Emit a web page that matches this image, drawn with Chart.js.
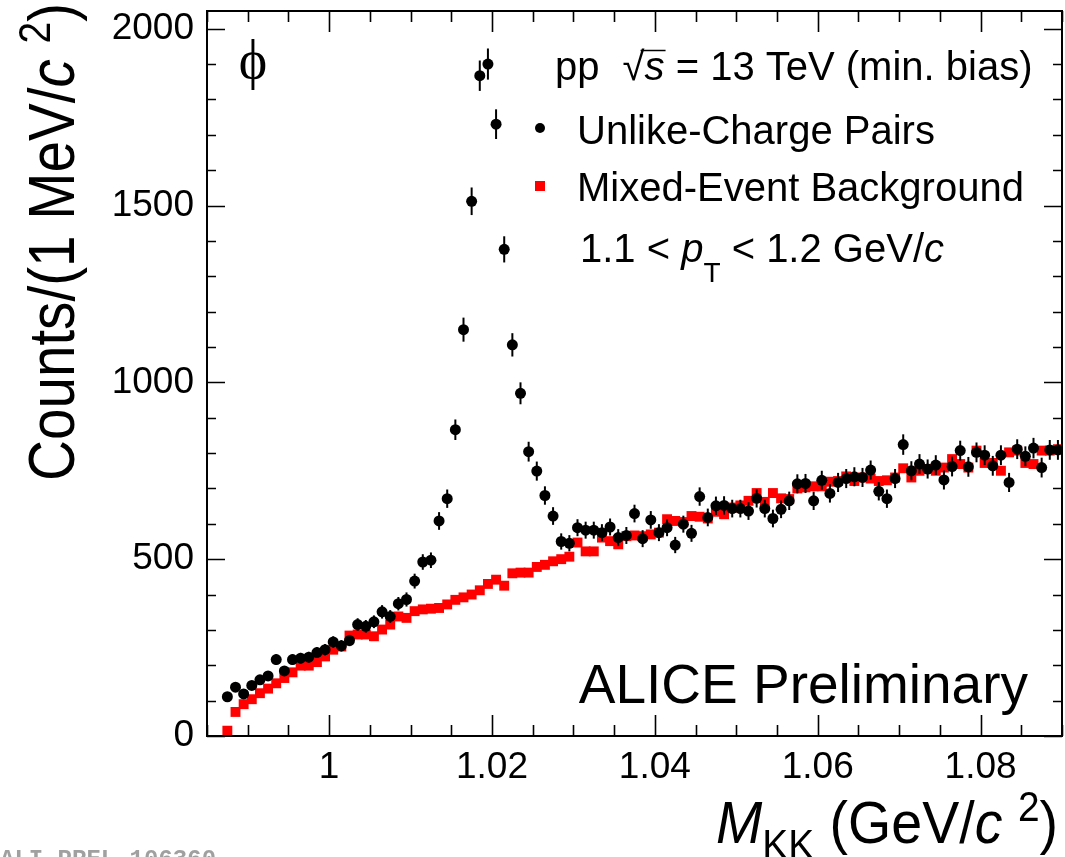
<!DOCTYPE html>
<html>
<head>
<meta charset="utf-8">
<script src="https://cdn.jsdelivr.net/npm/chart.js@4.4.1/dist/chart.umd.min.js"></script>
<style>
  body { margin: 0; background: #fff; }
  canvas { display: block; }
</style>
</head>
<body>
<canvas id="phiChart" width="1065" height="857"></canvas>
<script>
'use strict';

// 1 MeV/c^2 bins, first bin centre
const binStart = 0.9875;
const binWidth = 0.001;

const unlikeCounts = [
  111, 138, 119, 143, 159, 170, 216, 184, 216, 220,
  223, 236, 244, 266, 255, 270, 315, 310, 323, 351,
  338, 374, 386, 438, 492, 497, 608, 671, 866, 1149,
  1512, 1867, 1900, 1730, 1376, 1106, 969, 804, 749, 680,
  622, 550, 545, 589, 582, 582, 575, 591, 561, 567,
  629, 558, 611, 575, 589, 540, 599, 573, 677, 618,
  651, 652, 643, 643, 636, 672, 643, 615, 641, 665,
  713, 714, 665, 723, 686, 717, 728, 733, 731, 752,
  692, 671, 728, 824, 750, 769, 755, 766, 724, 762,
  807, 761, 802, 794, 764, 794, 717, 811, 791, 814,
  759, 809, 809
];

// error bar half-lengths (counts)
const unlikeErrors = [
  11, 12, 11, 12, 13, 13, 15, 14, 15, 15,
  15, 15, 16, 16, 16, 16, 18, 18, 18, 19,
  18, 19, 20, 21, 22, 22, 25, 26, 29, 34,
  39, 43, 44, 42, 37, 33, 31, 28, 27, 26,
  25, 23, 23, 24, 24, 24, 24, 24, 24, 24,
  25, 24, 25, 24, 24, 23, 24, 24, 26, 25,
  26, 26, 25, 25, 25, 26, 25, 25, 25, 26,
  27, 27, 26, 27, 26, 27, 27, 27, 27, 27,
  26, 26, 27, 29, 27, 28, 27, 28, 27, 28,
  28, 28, 28, 28, 28, 28, 27, 28, 28, 29,
  28, 28, 28
];

const mixedCounts = [
  15, 68, 90, 104, 121, 134, 149, 164, 180, 199,
  199, 209, 225, 244, 253, 284, 287, 287, 282, 301,
  315, 338, 334, 353, 358, 360, 362, 372, 385, 392,
  400, 412, 430, 442, 425, 460, 462, 462, 478, 484,
  494, 500, 507, 547, 522, 522, 561, 551, 542, 565,
  567, 565, 570, 575, 613, 608, 605, 622, 620, 615,
  634, 627, 646, 652, 665, 687, 662, 687, 672, 670,
  700, 703, 706, 706, 719, 721, 734, 721, 731, 728,
  721, 723, 731, 757, 731, 750, 755, 750, 759, 783,
  769, 759, 807, 772, 772, 750, 802, 807, 772, 769,
  807, 807, 811
];

const xTickVals = [1, 1.02, 1.04, 1.06, 1.08];
const xTickLabels = ['1', '1.02', '1.04', '1.06', '1.08'];
const yTickVals = [0, 500, 1000, 1500, 2000];
const yTickLabels = ['0', '500', '1000', '1500', '2000'];

const xMin = 0.985, xMax = 1.09;
const yMin = 0, yMax = 2050;

let massBins = unlikeCounts.map((c, i) => binStart + i * binWidth);
let unlikePts = unlikeCounts.map((c, i) => ({ x: massBins[i], y: c }));
let mixedPts = mixedCounts.map((c, i) => ({ x: massBins[i], y: c }));

const SANS = '"Liberation Sans", Arial, Helvetica, sans-serif';

function drawParts(ctx, x, y, parts) {
  let cx = x;
  for (const p of parts) {
    ctx.font = p.font;
    ctx.fillText(p.text, cx, y + (p.dy || 0));
    cx += ctx.measureText(p.text).width + (p.gap || 0);
  }
  return cx;
}

function partsWidth(ctx, parts) {
  let w = 0;
  for (const p of parts) {
    ctx.font = p.font;
    w += ctx.measureText(p.text).width + (p.gap || 0);
  }
  return w;
}

const rootStyle = {
  id: 'rootStyle',
  beforeDatasetDraw(chart, args) {
    if (args.index !== 0) return;
    // vertical error bars on the unlike-charge pairs
    const ctx = chart.ctx;
    const xs = chart.scales.x, ys = chart.scales.y;
    ctx.save();
    ctx.strokeStyle = '#000';
    ctx.lineWidth = 2;
    unlikeCounts.forEach((c, i) => {
      let px = xs.getPixelForValue(massBins[i]);
      ctx.beginPath();
      ctx.moveTo(px, ys.getPixelForValue(c - unlikeErrors[i]));
      ctx.lineTo(px, ys.getPixelForValue(c + unlikeErrors[i]));
      ctx.stroke();
    });
    ctx.restore();
  },
  afterDraw(chart) {
    const ctx = chart.ctx;
    const a = chart.chartArea;
    const xs = chart.scales.x, ys = chart.scales.y;
    ctx.save();
    ctx.strokeStyle = '#000';

    // frame
    ctx.lineWidth = 2;
    ctx.strokeRect(a.left, a.top, a.right - a.left, a.bottom - a.top);

    // x ticks, bottom and top
    ctx.lineWidth = 1.6;
    for (let k = Math.ceil(xMin / 0.005 - 1e-6); k * 0.005 <= xMax + 1e-9; k++) {
      let v = k * 0.005;
      let major = xTickVals.some(t => Math.abs(t - v) < 1e-6);
      let len = major ? 21 : 11;
      let px = Math.round(xs.getPixelForValue(v)) + 0.5;
      ctx.beginPath();
      ctx.moveTo(px, a.bottom); ctx.lineTo(px, a.bottom - len);
      ctx.moveTo(px, a.top); ctx.lineTo(px, a.top + len);
      ctx.stroke();
    }
    // y ticks, left and right
    for (let v = 0; v <= yMax; v += 100) {
      let major = v % 500 === 0;
      let len = major ? 18 : 9;
      let py = Math.round(ys.getPixelForValue(v)) + 0.5;
      ctx.beginPath();
      ctx.moveTo(a.left, py); ctx.lineTo(a.left + len, py);
      ctx.moveTo(a.right, py); ctx.lineTo(a.right - len, py);
      ctx.stroke();
    }

    ctx.fillStyle = '#000';
    ctx.textBaseline = 'alphabetic';
    ctx.textAlign = 'left';

    // phi symbol
    ctx.font = '54px "Liberation Serif", "DejaVu Serif", serif';
    ctx.textAlign = 'center';
    ctx.textBaseline = 'middle';
    ctx.fillText('\u03D5', 253, 64);
    ctx.textAlign = 'left';
    ctx.textBaseline = 'alphabetic';

    const f40 = '40px ' + SANS;
    const i40 = 'italic 40px ' + SANS;

    // pp sqrt(s) = 13 TeV
    let cx = drawParts(ctx, 555, 80, [{ text: 'pp ', font: f40, gap: 12 }]);
    ctx.font = f40;
    ctx.fillText('\u221A', cx, 80);
    cx += ctx.measureText('\u221A').width;
    ctx.font = i40;
    ctx.fillText('s', cx, 80);
    let sw = ctx.measureText('s').width;
    ctx.lineWidth = 1.5;
    ctx.beginPath();
    ctx.moveTo(cx - 4, 50.5); ctx.lineTo(cx + sw + 1, 50.5);
    ctx.stroke();
    cx += sw;
    drawParts(ctx, cx, 80, [{ text: ' = 13 TeV (min. bias)', font: f40 }]);

    // legend
    ctx.beginPath();
    ctx.arc(540, 128, 5, 0, Math.PI * 2);
    ctx.fill();
    ctx.fillText('Unlike-Charge Pairs', 577, 144);
    ctx.fillStyle = '#ff0000';
    ctx.fillRect(535, 181, 10, 10);
    ctx.fillStyle = '#000';
    ctx.fillText('Mixed-Event Background', 577, 201);
    drawParts(ctx, 580, 262, [
      { text: '1.1 < ', font: f40 },
      { text: 'p', font: i40 },
      { text: 'T', font: '28px ' + SANS, dy: 20 },
      { text: ' < 1.2 GeV/', font: f40 },
      { text: 'c', font: i40 }
    ]);

    // ALICE Preliminary
    ctx.font = '55px ' + SANS;
    ctx.textAlign = 'right';
    ctx.fillText('ALICE Preliminary', 1028, 703);
    ctx.textAlign = 'left';

    // x axis title
    const xTitle = [
      { text: 'M', font: 'italic 60px ' + SANS },
      { text: 'KK', font: '42px ' + SANS, dy: 16 },
      { text: ' (GeV/', font: '60px ' + SANS },
      { text: 'c', font: 'italic 60px ' + SANS },
      { text: ' ', font: '60px ' + SANS },
      { text: '2', font: '42px ' + SANS, dy: -22 },
      { text: ')', font: '60px ' + SANS }
    ];
    let xw = partsWidth(ctx, xTitle);
    ctx.save();
    ctx.translate(716, 843);
    ctx.scale(342 / xw, 1);
    drawParts(ctx, 0, 0, xTitle);
    ctx.restore();

    // y axis title
    const yTitle = [
      { text: 'Counts/(1 MeV/', font: '64px ' + SANS },
      { text: 'c', font: 'italic 64px ' + SANS },
      { text: ' ', font: '64px ' + SANS },
      { text: '2', font: '44px ' + SANS, dy: -24 },
      { text: ')', font: '64px ' + SANS }
    ];
    let yw = partsWidth(ctx, yTitle);
    ctx.save();
    ctx.translate(74, 481);
    ctx.rotate(-Math.PI / 2);
    ctx.scale(478 / yw, 1);
    drawParts(ctx, 0, 0, yTitle);
    ctx.restore();

    // figure id
    ctx.fillStyle = '#a0a0a0';
    ctx.font = 'bold 24px "Liberation Mono", "DejaVu Sans Mono", monospace';
    ctx.fillText('ALI-PREL-106360', 0, 866);

    ctx.restore();
  }
};

let canvasElem = document.getElementById('phiChart');

let chartObj = {
  type: 'scatter',
  data: {
    datasets: [{
      label: 'Unlike-Charge Pairs',
      data: unlikePts,
      pointStyle: 'circle',
      pointRadius: 5.5,
      backgroundColor: '#000',
      borderColor: '#000',
      borderWidth: 0
    },
    {
      label: 'Mixed-Event Background',
      data: mixedPts,
      pointStyle: 'rect',
      pointRadius: 7,
      backgroundColor: '#ff0000',
      borderColor: '#ff0000',
      borderWidth: 0
    }]
  },
  options: {
    responsive: false,
    animation: false,
    layout: { autoPadding: false, padding: { top: 11, right: 3, left: 0, bottom: 0 } },
    plugins: {
      legend: { display: false },
      tooltip: { enabled: false }
    },
    scales: {
      x: {
        type: 'linear',
        min: xMin,
        max: xMax,
        grid: { display: false, drawTicks: false },
        border: { display: false },
        afterFit(s) {
          s.height = 121;
          s.paddingLeft = 0;
          s.paddingRight = 0;
        },
        afterBuildTicks(s) { s.ticks = xTickVals.map(v => ({ value: v })); },
        ticks: {
          autoSkip: false,
          maxRotation: 0,
          padding: 10,
          color: '#000',
          font: { family: SANS, size: 37 },
          callback: (v, i) => xTickLabels[i]
        }
      },
      y: {
        min: yMin,
        max: yMax,
        grid: { display: false, drawTicks: false },
        border: { display: false },
        afterFit(s) {
          s.width = 207;
          s.paddingTop = 0;
          s.paddingBottom = 0;
        },
        afterBuildTicks(s) { s.ticks = yTickVals.map(v => ({ value: v })); },
        ticks: {
          autoSkip: false,
          padding: 13,
          color: '#000',
          font: { family: SANS, size: 37 },
          callback: (v, i) => yTickLabels[i]
        }
      }
    }
  },
  plugins: [rootStyle]
};

new Chart(canvasElem, chartObj);
</script>
</body>
</html>
